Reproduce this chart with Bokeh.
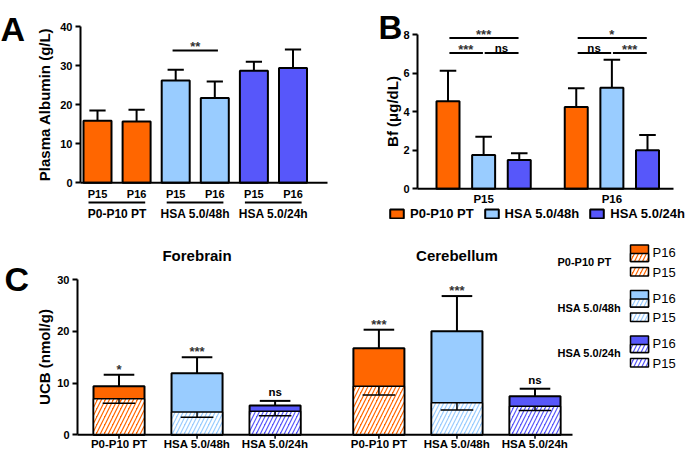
from bokeh.plotting import figure
from bokeh.layouts import column, row
from bokeh.models import Range1d, FixedTicker, Legend, LegendItem
from bokeh.core.properties import value
from bokeh.embed import file_html
from bokeh.resources import INLINE

# ---------------- data ----------------
groups = ["P0-P10 PT", "HSA 5.0/48h", "HSA 5.0/24h"]
ages = ["P15", "P16"]
colors = ["#FF6600", "#99CCFF", "#5757FA"]

# A: plasma albumin (g/L); order P15, P16 for each group
albumin_mean = [15.9, 15.7, 26.2, 21.7, 28.7, 29.4]
albumin_sem = [2.6, 3.0, 2.7, 4.2, 2.3, 4.7]
albumin_sig = ["**"]

# B: Bf (ug/dL), one value per group
bf_p15_mean = [4.55, 1.75, 1.5]
bf_p15_sem = [1.58, 0.95, 0.35]
bf_p16_mean = [4.25, 5.25, 2.0]
bf_p16_sem = [0.97, 1.45, 0.8]
bf_sig_outer = ["***", "*"]
bf_sig_left = ["***", "ns"]
bf_sig_right = ["ns", "***"]

# C: UCB (nmol/g)
regions = ["Forebrain", "Cerebellum"]
fb_p16_mean = [9.4, 11.9, 5.65]
fb_p16_sem = [2.2, 3.1, 0.9]
fb_p15_mean = [6.95, 4.4, 4.55]
fb_p15_sem = [0.85, 1.0, 0.85]
cb_p16_mean = [16.7, 20.0, 7.45]
cb_p16_sem = [3.6, 6.8, 1.45]
cb_p15_mean = [9.4, 6.2, 5.5]
cb_p15_sem = [1.7, 1.4, 0.8]
fb_sig = ["*", "***", "ns"]
cb_sig = ["***", "***", "ns"]

# ---------------- layout helpers ----------------
FONT = "Liberation Sans"
W, H = 685, 451
HT = 224
HB = H - HT
WA = 340
WB = W - WA


def px(s):
    return f"{s}px"


def base_fig(width, height, x_ref, y_ref, ox, oy):
    (ra, va), (rb, vb) = x_ref
    pa, pb = ra - ox, rb - ox
    kx = (pb - pa) / (vb - va)
    x0, x1 = va - pa / kx, va + (width - pa) / kx
    (sa, wa), (sb, wb) = y_ref
    qa, qb = sa - oy, sb - oy
    ky = (qa - qb) / (wb - wa)
    y0, y1 = wa - (height - qa) / ky, wa + qa / ky
    p = figure(width=width, height=height, x_range=Range1d(x0, x1), y_range=Range1d(y0, y1),
               output_backend="svg", toolbar_location=None, x_axis_location=None,
               y_axis_location="left", min_border_left=0, min_border_right=0,
               min_border_top=0, min_border_bottom=0)
    p.outline_line_color = None
    p.grid.visible = False
    p.background_fill_color = "white"
    p.border_fill_color = "white"

    def xv(ref):
        return va + (ref - ra) / kx

    def yv(ref):
        return wa + (sa - ref) / ky

    return p, dict(kx=kx, ky=ky, xv=xv, yv=yv)


def style_yaxis(p, loc, ticks, label, standoff):
    ax = p.yaxis[0]
    ax.fixed_location = loc
    ax.ticker = FixedTicker(ticks=ticks)
    ax.bounds = (ticks[0], ticks[-1])
    ax.axis_line_width = 2
    ax.axis_line_color = "black"
    ax.major_tick_line_width = 2
    ax.major_tick_line_color = "black"
    ax.major_tick_out = 5
    ax.major_tick_in = 0
    ax.minor_tick_line_color = None
    ax.major_label_text_font = FONT
    ax.major_label_text_font_style = "bold"
    ax.major_label_text_font_size = px(11)
    ax.major_label_text_color = "black"
    ax.major_label_standoff = 3
    ax.axis_label = label
    ax.axis_label_text_font = FONT
    ax.axis_label_text_font_style = "bold"
    ax.axis_label_text_font_size = px(15)
    ax.axis_label_text_color = "black"
    ax.axis_label_standoff = standoff


def txt(p, xs, ys, texts, size, bold=True, align="center", baseline="middle", yoff=0,
        color="black"):
    p.text(x=xs, y=ys, text=texts, text_font=value(FONT), text_font_size=value(px(size)),
           text_font_style="bold" if bold else "normal", text_align=align,
           text_baseline=baseline, text_color=color, y_offset=yoff)


# empirical height (in em) of the visual centre of each label above its anchor
GLYPH_MID = {"*": 0.12, "n": -0.04}


def sig_text(p, xs, ys, labels, gap_px):
    for x, y, lab in zip(xs, ys, labels):
        size = 11.5 if lab == "ns" else 13
        mid = GLYPH_MID[lab[0]] * size
        txt(p, [x], [y], [lab], size, baseline="alphabetic", yoff=-(gap_px - mid),
            color="black" if lab == "ns" else "#333333")


def err_up(p, xs, tops, errs, cap_half, lw=2):
    ends = [t + e for t, e in zip(tops, errs)]
    p.segment(x0=xs, y0=tops, x1=xs, y1=ends, line_color="black", line_width=lw)
    p.segment(x0=[x - cap_half for x in xs], y0=ends, x1=[x + cap_half for x in xs], y1=ends,
              line_color="black", line_width=lw)


def err_down(p, xs, tops, errs, cap_half, lw=1.5):
    ends = [t - e for t, e in zip(tops, errs)]
    p.segment(x0=xs, y0=tops, x1=xs, y1=ends, line_color="black", line_width=lw)
    p.segment(x0=[x - cap_half for x in xs], y0=ends, x1=[x + cap_half for x in xs], y1=ends,
              line_color="black", line_width=lw)


# ---------------- panel A ----------------
pA, ia = base_fig(WA, HT, ((97, 0), (292.5, 5)), ((182.3, 0), (26, 40)), 0, 0)
xa, ya = ia["xv"], ia["yv"]
style_yaxis(pA, xa(80), [0, 10, 20, 30, 40], "Plasma Albumin (g/L)", 4)
a_x = [g * 2 + s for g in range(len(groups)) for s in range(len(ages))]
a_col = [colors[g] for g in range(len(groups)) for s in range(len(ages))]
a_bw = 28 / ia["kx"]
err_up(pA, a_x, albumin_mean, albumin_sem, a_bw * 0.29)
pA.vbar(x=a_x, top=albumin_mean, bottom=0, width=a_bw, fill_color=a_col,
        line_color="black", line_width=2)
pA.segment(x0=[xa(80)], y0=[0], x1=[xa(327)], y1=[0], line_color="black", line_width=2)
txt(pA, a_x, [ya(193)] * len(a_x), [ages[s] for g in range(3) for s in range(2)], 11)
pA.segment(x0=[g * 2 - 0.23 for g in range(3)], y0=[ya(202)] * 3,
           x1=[g * 2 + 1.22 for g in range(3)], y1=[ya(202)] * 3,
           line_color="black", line_width=2)
txt(pA, [g * 2 + 0.5 for g in range(3)], [ya(213.5)] * 3, groups, 12)
sig_y = ya(50)
pA.segment(x0=[1.92], y0=[sig_y], x1=[3.08], y1=[sig_y], line_color="black", line_width=2)
sig_text(pA, [2.5], [sig_y], albumin_sig, 6)
txt(pA, [xa(0)], [ya(28.3)], ["A"], 34, align="left", baseline="alphabetic")

# ---------------- panel B ----------------
pB, ib = base_fig(WB, HT, ((447.5, 0), (647, 5.6)), ((188.3, 0), (34.3, 8)), WA, 0)
xb, yb = ib["xv"], ib["yv"]
style_yaxis(pB, xb(417), [0, 2, 4, 6, 8], "Bf (\u03bcg/dL)", -1)
GOFF = 3.6
b_bw = 23 / ib["kx"]
b_means = [bf_p15_mean, bf_p16_mean]
b_sems = [bf_p15_sem, bf_p16_sem]
items = []
for k in range(len(groups)):
    xs = [a * GOFF + k for a in range(len(ages))]
    tops = [b_means[a][k] for a in range(len(ages))]
    errs = [b_sems[a][k] for a in range(len(ages))]
    err_up(pB, xs, tops, errs, b_bw * 0.36)
    r = pB.vbar(x=xs, top=tops, bottom=0, width=b_bw, fill_color=colors[k],
                line_color="black", line_width=2)
    items.append(LegendItem(label=groups[k], renderers=[r]))
pB.segment(x0=[xb(417)], y0=[0], x1=[xb(673)], y1=[0], line_color="black", line_width=2)
txt(pB, [a * GOFF + 1 for a in range(2)], [yb(198)] * 2, ages, 11.5)
y_out, y_in = 7.83, 7.05
for a in range(2):
    c = a * GOFF
    pB.segment(x0=[c + 0.04, c + 0.04, c + 1.03], y0=[y_out, y_in, y_in],
               x1=[c + 1.98, c + 0.98, c + 1.98], y1=[y_out, y_in, y_in],
               line_color="black", line_width=2)
    sig_text(pB, [c + 1.0], [y_out], [bf_sig_outer[a]], 5.5)
    for xx, lab in ((c + 0.5, bf_sig_left[a]), (c + 1.5, bf_sig_right[a])):
        sig_text(pB, [xx], [y_in], [lab], 4.2 if lab == "ns" else 5)
leg = Legend(items=items, orientation="horizontal", location=(388 - WA, HT - 220.5),
             glyph_width=17, glyph_height=11, label_height=11, label_standoff=5, spacing=9,
             padding=0, margin=0, border_line_color=None, background_fill_alpha=0,
             label_text_font=FONT, label_text_font_style="bold",
             label_text_font_size=px(13), label_text_color="black")
pB.add_layout(leg)
txt(pB, [xb(378)], [yb(26.7)], ["B"], 33, align="left", baseline="alphabetic")

# ---------------- panel C ----------------
GC = 3.33
pC, ic = base_fig(W, HB, ((118.5, 0), (534.5, GC + 2)), ((434.3, 0), (279, 30)), 0, HT)
xc, yc = ic["xv"], ic["yv"]
style_yaxis(pC, xc(77), [0, 10, 20, 30], "UCB (nmol/g)", 1)
c_bw = 51 / ic["kx"]
c16 = [fb_p16_mean, cb_p16_mean]
c16e = [fb_p16_sem, cb_p16_sem]
c15 = [fb_p15_mean, cb_p15_mean]
c15e = [fb_p15_sem, cb_p15_sem]
csig = [fb_sig, cb_sig]
HATCH = dict(hatch_pattern="/", hatch_color="white", hatch_weight=2.4, hatch_scale=8)
for g in range(len(regions)):
    xs = [g * GC + k for k in range(3)]
    err_up(pC, xs, c16[g], c16e[g], c_bw * 0.3)
    pC.vbar(x=xs, top=c16[g], bottom=0, width=c_bw, fill_color=colors, line_color="black",
            line_width=2)
    pC.vbar(x=xs, top=c15[g], bottom=0, width=c_bw, fill_color=colors, line_color="black",
            line_width=1.5, **HATCH)
    err_down(pC, xs, c15[g], c15e[g], c_bw * 0.32)
    for xx, yy, lab in zip(xs, [m + e for m, e in zip(c16[g], c16e[g])], csig[g]):
        sig_text(pC, [xx], [yy], [lab], 8 if lab == "ns" else 7)
    txt(pC, xs, [yc(443)] * 3, groups, 11.5)
    txt(pC, [g * GC + 1], [yc(255)], [regions[g]], 15)
all_cx = [g * GC + k for g in range(2) for k in range(3)]
tick_len = 4 / ic["ky"]
pC.segment(x0=all_cx, y0=[0] * 6, x1=all_cx, y1=[-tick_len] * 6, line_color="black",
           line_width=1.5)
pC.segment(x0=[xc(77)], y0=[0], x1=[xc(572)], y1=[0], line_color="black", line_width=2)

# legend of panel C (drawn with glyphs)
for j in range(len(groups)):
    y0 = 244.5 + j * 45.5
    L, R = xc(630), xc(648)
    pC.quad(left=[L], right=[R], top=[yc(y0)], bottom=[yc(y0 + 16.5)], fill_color=colors[j],
            line_color="black", line_width=1.5)
    pC.quad(left=[L], right=[R], top=[yc(y0 + 8.5)], bottom=[yc(y0 + 16.5)],
            fill_color=colors[j], line_color="black", line_width=1.5, **HATCH)
    pC.quad(left=[L], right=[R], top=[yc(y0 + 22.5)], bottom=[yc(y0 + 31)],
            fill_color=colors[j], line_color="black", line_width=1.5, **HATCH)
    txt(pC, [xc(652), xc(652)], [yc(y0 + 7.5), yc(y0 + 27)], ["P16", "P15"], 13, bold=False,
        align="left")
    txt(pC, [xc(557)], [yc(y0 + 17)], [groups[j]], 11, align="left")
txt(pC, [xc(4)], [yc(278)], ["C"], 34, align="left", baseline="alphabetic")

layout = column(row(pA, pB), pC)
open("out.html", "w").write(file_html(layout, INLINE))
